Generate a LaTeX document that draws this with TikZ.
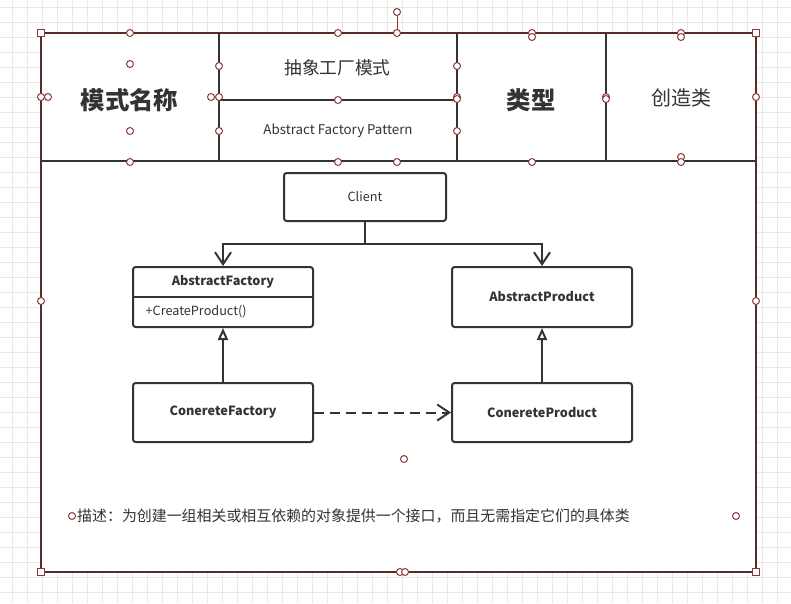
\documentclass[tikz,border=0pt]{standalone}
\usepackage{fontspec}
\setmainfont{Noto Sans CJK SC}
\usetikzlibrary{arrows.meta}

\definecolor{ink}{HTML}{333333}
\definecolor{sel}{HTML}{8B3A3A}
\definecolor{framered}{HTML}{5A2B2B}
\definecolor{gridgray}{HTML}{E8E8E8}

\tikzset{
    umlbox/.style={draw=ink, line width=1.5pt, rounded corners=2pt, fill=white, text=ink,
        minimum width=135pt, minimum height=45pt, inner sep=0pt, font=\bfseries\fontsize{9.5}{11}\selectfont},
    handle/.style={circle, draw=sel, fill=white, line width=0.75pt, minimum size=5.25pt, inner sep=0pt},
    cornerhandle/.style={rectangle, draw=sel, fill=white, line width=0.75pt, minimum size=5.25pt, inner sep=0pt},
    rule/.style={draw=ink, line width=1.5pt},
    link/.style={draw=ink, line width=1.5pt},
}

\begin{document}
\begin{tikzpicture}[x=0.75pt, y=-0.75pt]
    \useasboundingbox (0,0) rectangle (791,603);
    \fill[white] (0,0) rectangle (791,603);

    % grid
    \foreach \gx in {12.7,27.7,...,791} \draw[gridgray, line width=0.75pt] (\gx,0) -- (\gx,603);
    \foreach \gy in {7.3,22.3,...,603} \draw[gridgray, line width=0.75pt] (0,\gy) -- (791,\gy);

    \fill[white] (41,33) rectangle (756,572);

    % header table
    \draw[rule] (41,161) -- (756,161);
    \draw[rule] (219,33) -- (219,161);
    \draw[rule] (457,33) -- (457,161);
    \draw[rule] (606,33) -- (606,161);
    \draw[rule] (219,100) -- (457,100);

    \node[text=ink, font=\bfseries\fontsize{18.3}{20}\selectfont] (name) at (129.5,100) {模式名称};
    \node[text=ink, font=\fontsize{13.3}{15}\selectfont] (cnname) at (337.5,68) {抽象工厂模式};
    \node[text=ink, font=\fontsize{10}{12}\selectfont] (enname) at (338,131) {Abstract Factory Pattern};
    \node[text=ink, font=\bfseries\fontsize{18.3}{20}\selectfont] (type) at (531,100) {类型};
    \node[text=ink, font=\fontsize{15}{17}\selectfont] (typeval) at (681,98) {创造类};

    % classes
    \node[umlbox, minimum width=121.5pt, minimum height=36pt, font=\fontsize{9.5}{11}\selectfont] (client) at (365,197) {Client};
    \node[umlbox] (afac) at (223,297) {};
    \node[text=ink, font=\bfseries\fontsize{9.5}{11}\selectfont] (afacname) at (223,282) {AbstractFactory};
    \draw[rule] (afac.west) -- (afac.east);
    \node[anchor=west, text=ink, font=\fontsize{9.5}{11}\selectfont] (afacop) at (141,312) {+CreateProduct()};
    \node[umlbox] (aprod) at (542,297) {AbstractProduct};
    \node[umlbox, minimum height=44.25pt] (cfac) at (223,412.5) {ConereteFactory};
    \node[umlbox, minimum height=44.25pt] (cprod) at (542,412.5) {ConereteProduct};

    \draw[link, -{Straight Barb[length=9pt, width=12pt]}] (client.south) -- ++(0,22) -| (afac.north);
    \draw[link, -{Straight Barb[length=9pt, width=12pt]}] (client.south) -- ++(0,22) -| (aprod.north);
    \draw[link, -{Triangle[open, length=9pt, width=7.5pt, fill=white]}] (cfac.north) -- (afac.south);
    \draw[link, -{Triangle[open, length=9pt, width=7.5pt, fill=white]}] (cprod.north) -- (aprod.south);
    \draw[link, dash pattern=on 7.5pt off 4.5pt, -{Straight Barb[length=9pt, width=12pt]}] (cfac.east) -- (cprod.west);

    \node[anchor=west, text=ink, font=\fontsize{11.2}{13}\selectfont] (desc) at (72.5,516) {描述：为创建一组相关或相互依赖的对象提供一个接口，而且无需指定它们的具体类};

    % selection frame
    \draw[framered, line width=1.5pt] (41,33) rectangle (756,572);
    \node[handle] (rot) at (397,12) {};
    \draw[sel, line width=0.75pt] (rot) -- (397,33);
    \foreach \hx/\hy in {130/33, 338/33, 397/33, 532/33, 532/37, 681/33, 681/37,
        756/97, 756/301, 41/301, 41/97, 48/97, 130/64, 130/131,
        219/66, 211/97, 219/97, 338/100, 219/131, 457/66, 457/97, 457/99, 457/131,
        606/97, 606/99, 130/162, 338/162, 397/162, 532/162, 681/157, 681/162,
        400/572, 405/572, 404/459, 72/516, 736/516}
        \node[handle] (h-\hx-\hy) at (\hx,\hy) {};
    \foreach \cx/\cy in {41/33, 756/33, 41/572, 756/572}
        \node[cornerhandle] (c-\cx-\cy) at (\cx,\cy) {};
\end{tikzpicture}
\end{document}
